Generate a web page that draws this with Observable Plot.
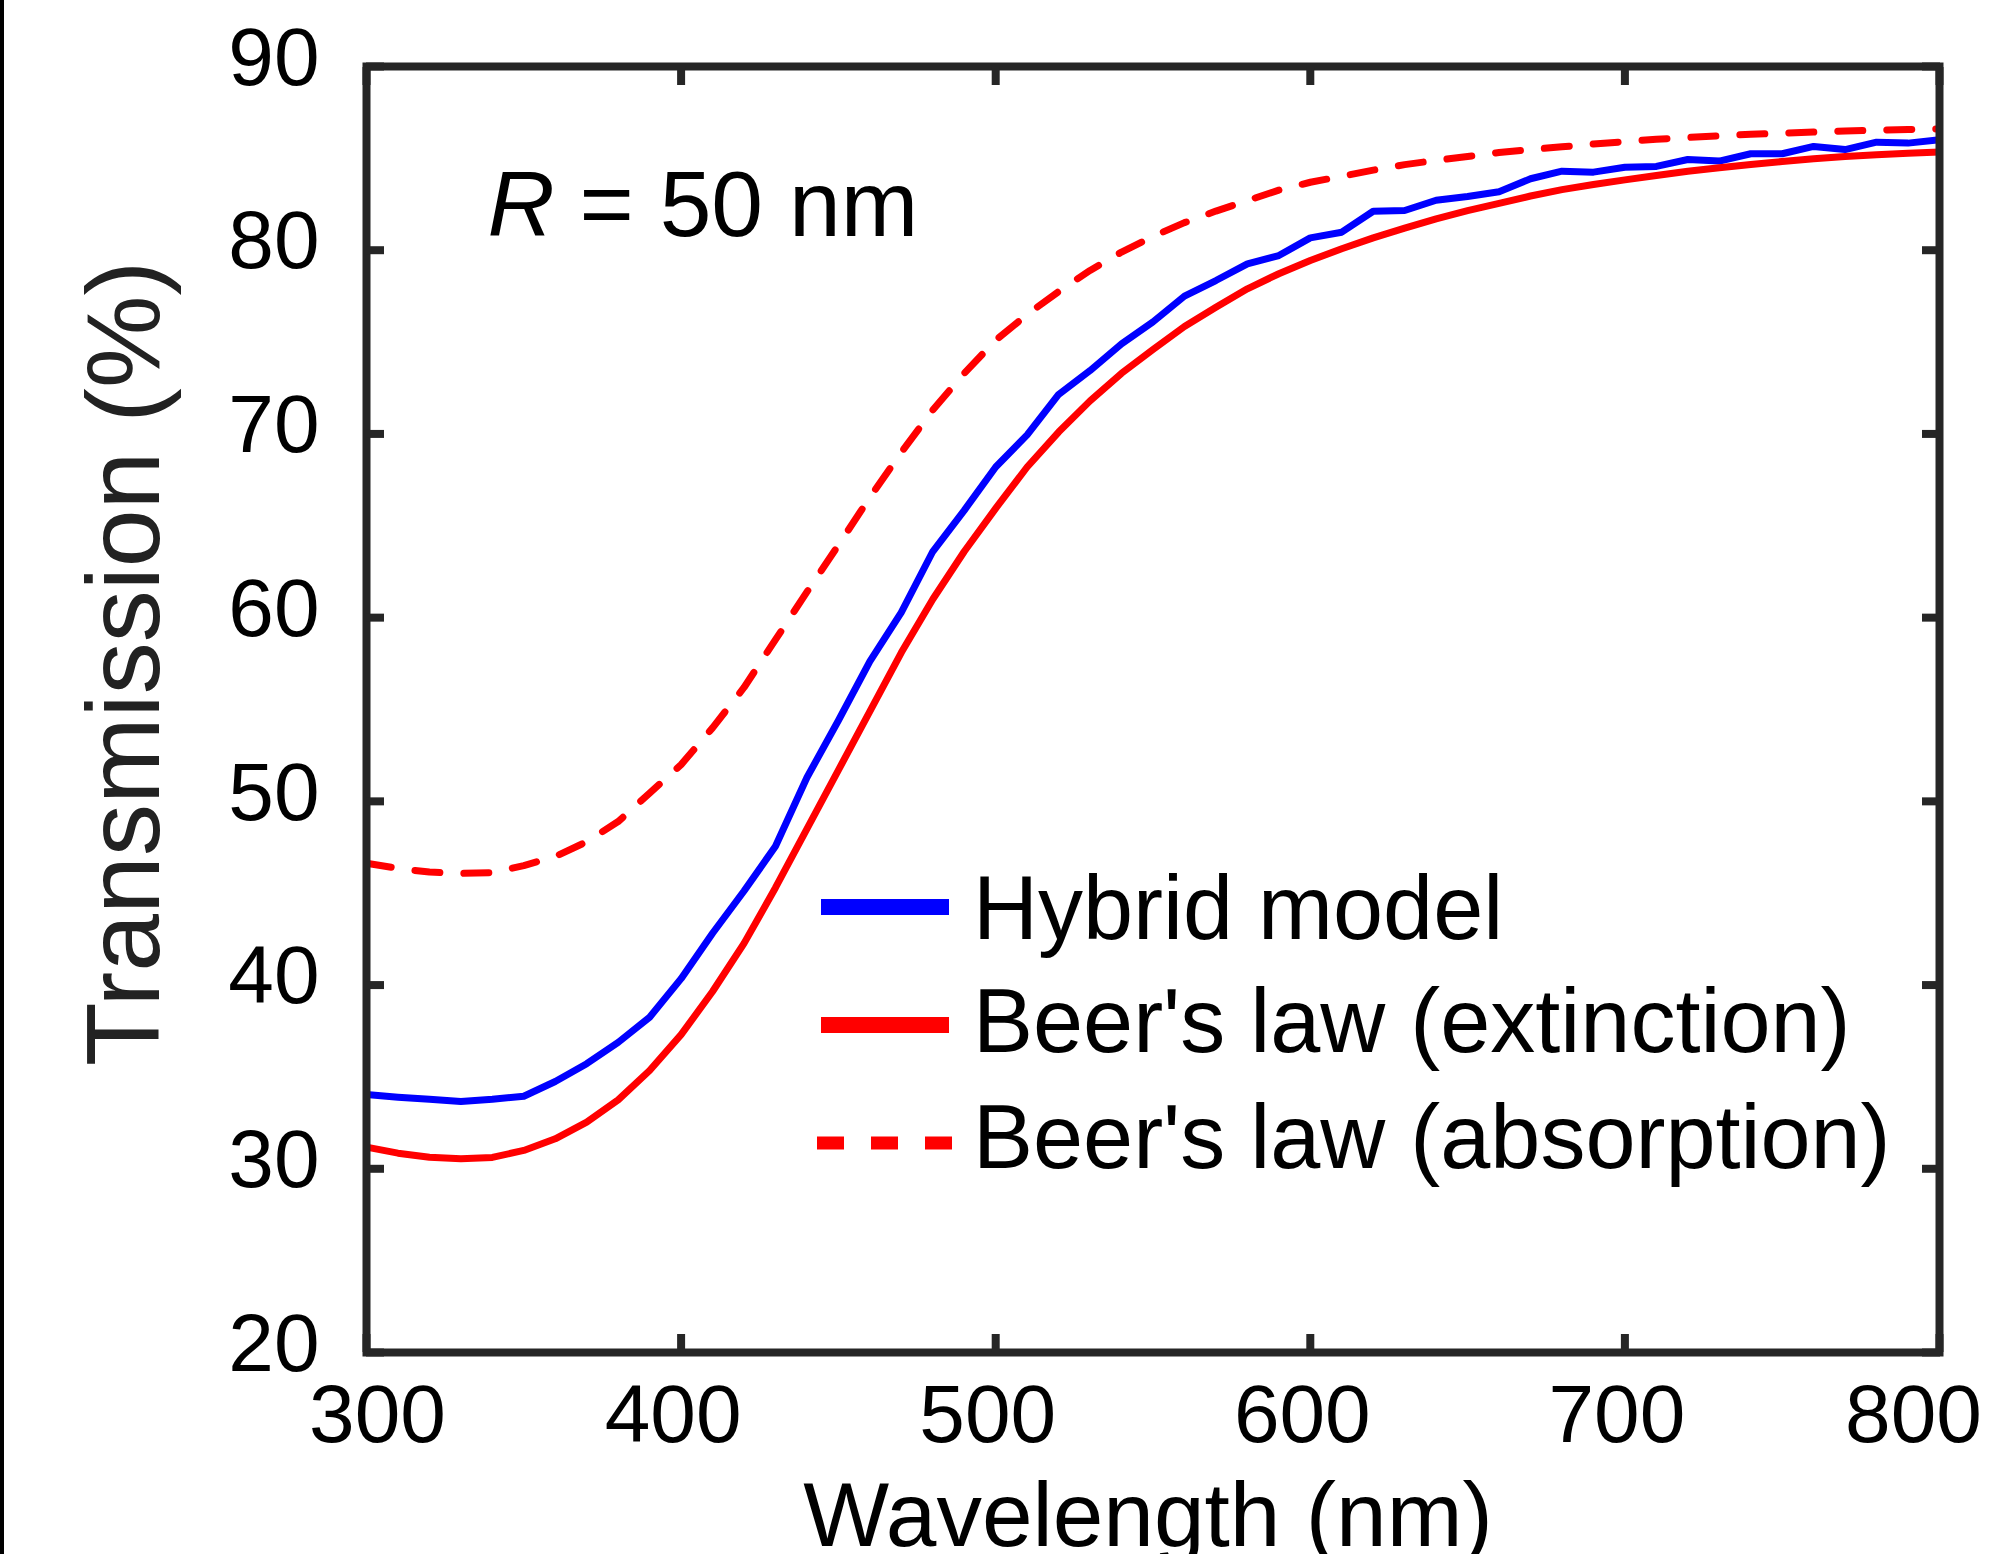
<!DOCTYPE html>
<html>
<head>
<meta charset="utf-8">
<script src="https://cdn.jsdelivr.net/npm/d3@7"></script>
<script src="https://cdn.jsdelivr.net/npm/@observablehq/plot@0.6"></script>
<style>
  html, body { margin: 0; padding: 0; background: #ffffff; }
  #wrap { position: relative; width: 1990px; height: 1554px; overflow: hidden; }
  #edge { position: absolute; left: 0; top: 0; width: 4px; height: 1554px; background: #000; }
</style>
</head>
<body>
<div id="wrap"><div id="chart"></div><div id="edge"></div></div>
<script>
// ---- data ----
const wavelength = [300,310,320,330,340,350,360,370,380,390,400,410,420,430,440,450,460,470,480,490,500,
  510,520,530,540,550,560,570,580,590,600,610,620,630,640,650,660,670,680,690,700,
  710,720,730,740,750,760,770,780,790,800];

const hybridModel = [34.04,33.90,33.78,33.66,33.78,33.95,34.75,35.72,36.88,38.25,40.35,42.82,45.12,47.56,51.30,54.40,57.62,60.29,63.60,65.84,68.20,
  69.95,72.15,73.45,74.90,76.10,77.50,78.35,79.26,79.71,80.67,80.98,82.12,82.16,82.72,82.92,83.18,83.89,84.30,84.25,84.52,
  84.56,84.94,84.85,85.25,85.25,85.65,85.48,85.88,85.83,86.01];

const beerExtinction = [31.18,30.85,30.63,30.54,30.62,31.00,31.63,32.54,33.75,35.35,37.30,39.65,42.27,45.30,48.50,51.70,54.90,58.10,61.00,63.60,65.95,
  68.20,70.10,71.80,73.30,74.60,75.85,76.90,77.90,78.72,79.44,80.08,80.67,81.20,81.70,82.15,82.55,82.95,83.30,83.58,83.83,
  84.07,84.30,84.49,84.67,84.83,84.98,85.10,85.19,85.28,85.34];

const beerAbsorption = [46.63,46.35,46.15,46.08,46.12,46.50,47.00,47.80,48.90,50.45,52.00,54.00,56.20,58.80,61.40,63.95,66.55,69.00,71.30,73.30,75.10,
  76.50,77.75,78.90,79.90,80.75,81.50,82.13,82.70,83.27,83.70,84.02,84.36,84.66,84.89,85.10,85.32,85.48,85.63,85.78,85.91,
  86.04,86.14,86.22,86.31,86.37,86.43,86.49,86.53,86.57,86.60];

const xTicks = [300,400,500,600,700,800];
const yTicks = [20,30,40,50,60,70,80,90];
const seriesNames = ["Hybrid model", "Beer's law (extinction)", "Beer's law (absorption)"];
const seriesColors = ["#0000ff", "#ff0000", "#ff0000"];
const seriesDashed = [false, false, true];
const xLabel = "Wavelength (nm)";
const yLabel = "Transmission (%)";
const annotationSymbol = "R";
const annotationRest = "= 50 nm";

// ---- chart ----
const AXIS = "#262626";
const FONT = "'Liberation Sans', Arial, Helvetica, sans-serif";

function legendMark() {
  return () => {
    const g = d3.create("svg:g")
      .attr("font-family", FONT).attr("font-size", 90).attr("fill", "#000")
      .attr("text-anchor", "start");
    const lineY = [907, 1025, 1143];
    const baseY = [939, 1052, 1168];
    seriesNames.forEach((name, i) => {
      g.append("line")
        .attr("x1", seriesDashed[i] ? 817 : 821).attr("x2", seriesDashed[i] ? 952 : 949)
        .attr("y1", lineY[i]).attr("y2", lineY[i])
        .attr("stroke", seriesColors[i]).attr("stroke-width", seriesDashed[i] ? 13 : 16)
        .attr("stroke-dasharray", seriesDashed[i] ? "27,27" : null);
      g.append("text").attr("x", 973).attr("y", baseY[i]).attr("text-anchor", "start").text(name);
    });
    return g.node();
  };
}

const lineData = [hybridModel, beerExtinction, beerAbsorption];
const tickTextOpts = {anchor: "bottom", tickSize: 0, tickPadding: 31, fontSize: 82, fill: "#000", label: null};

const chart = Plot.plot({
  width: 1990,
  height: 1554,
  marginLeft: 366,
  marginRight: 51,
  marginTop: 66,
  marginBottom: 202,
  x: {domain: [300, 800]},
  y: {domain: [20, 90]},
  style: {fontFamily: FONT, background: "#ffffff", color: "#000000", overflow: "visible"},
  marks: [
    ...lineData.map((vals, i) => Plot.line(wavelength, {
      x: wavelength, y: vals,
      stroke: seriesColors[i], strokeWidth: 7,
      strokeDasharray: seriesDashed[i] ? "25,24" : null,
      strokeLinejoin: "round"
    })),
    Plot.frame({stroke: AXIS, strokeWidth: 8}),
    Plot.axisX(xTicks, {anchor: "bottom", tickSize: -18, fill: null, stroke: AXIS, strokeWidth: 8, label: null}),
    Plot.axisX(xTicks, {anchor: "top", tickSize: -18, fill: null, stroke: AXIS, strokeWidth: 8, label: null}),
    Plot.axisY(yTicks, {anchor: "left", tickSize: -18, fill: null, stroke: AXIS, strokeWidth: 8, label: null}),
    Plot.axisY(yTicks, {anchor: "right", tickSize: -18, fill: null, stroke: AXIS, strokeWidth: 8, label: null}),
    Plot.axisX(xTicks.slice(0, 1), {...tickTextOpts, dx: 11}),
    Plot.axisX(xTicks.slice(1, -1), {...tickTextOpts, dx: -8}),
    Plot.axisX(xTicks.slice(-1), {...tickTextOpts, dx: -26}),
    Plot.axisY(yTicks, {anchor: "left", tickSize: 0, tickPadding: 47, fontSize: 82, fill: "#000", label: null, dy: -8}),
    Plot.text([xLabel], {frameAnchor: "bottom", text: d => d, fontSize: 91, textAnchor: "middle", lineAnchor: "bottom", dx: -5, dy: 193, fill: "#000"}),
    Plot.text([yLabel], {frameAnchor: "left", text: d => d, fontSize: 104, textAnchor: "middle", lineAnchor: "bottom", rotate: -90, dx: -208, dy: -46, fill: "#222"}),
    Plot.text([annotationSymbol], {frameAnchor: "top-left", text: d => d, fontSize: 93, fontStyle: "italic", textAnchor: "start", lineAnchor: "bottom", dx: 121, dy: 169, fill: "#000"}),
    Plot.text([annotationRest], {frameAnchor: "top-left", text: d => d, fontSize: 93, textAnchor: "start", lineAnchor: "bottom", dx: 213, dy: 169, fill: "#000"}),
    legendMark()
  ]
});

document.getElementById("chart").appendChild(chart);
</script>
</body>
</html>
